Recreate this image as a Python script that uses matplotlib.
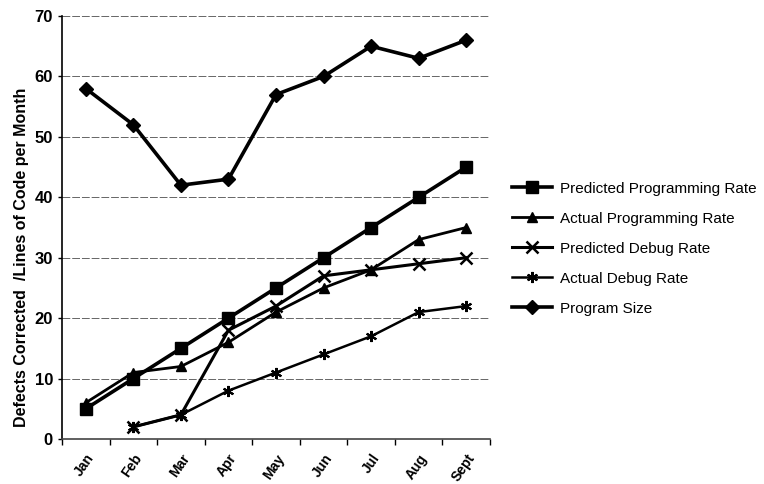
import matplotlib
matplotlib.use("Agg")
import matplotlib.pyplot as plt
import numpy as np

months = ["Jan", "Feb", "Mar", "Apr", "May", "Jun", "Jul", "Aug", "Sept"]
predicted_programming = [5, 10, 15, 20, 25, 30, 35, 40, 45]
actual_programming = [6, 11, 12, 16, 21, 25, 28, 33, 35]
predicted_debug = [np.nan, 2, 4, 18, 22, 27, 28, 29, 30]
actual_debug = [np.nan, 2, 4, 8, 11, 14, 17, 21, 22]
program_size = [58, 52, 42, 43, 57, 60, 65, 63, 66]
y_ticks = [0, 10, 20, 30, 40, 50, 60, 70]

plt.rcParams['font.family'] = ['Liberation Sans', 'DejaVu Sans']

fig = plt.figure(figsize=(7.64, 4.84), dpi=100)
ax = fig.add_axes([62/764, 45/484, 428/764, 423/484])

x = np.arange(len(months))
ax.plot(x, predicted_programming, color='black', lw=2.6, marker='s', ms=9, label='Predicted Programming Rate', zorder=3)
ax.plot(x, actual_programming, color='black', lw=2.0, marker='^', ms=7, label='Actual Programming Rate', zorder=3)
ax.plot(x, predicted_debug, color='black', lw=2.2, marker='x', ms=8, mew=1.8, label='Predicted Debug Rate', zorder=3)
ax.plot(x, actual_debug, color='black', lw=1.8, marker=(6, 2, 0), ms=8, mew=1.5, label='Actual Debug Rate', zorder=3)
ax.plot(x, program_size, color='black', lw=2.6, marker='D', ms=7, label='Program Size', zorder=3)

ax.set_xlim(-0.5, len(months) - 0.5)
ax.set_ylim(0, 70)
ax.set_yticks(y_ticks)
ax.set_yticklabels([str(v) for v in y_ticks], fontsize=12, fontweight='bold')
ax.set_xticks(x)
ax.set_xticklabels(months, rotation=55, fontsize=10, fontweight='bold', ha='right', rotation_mode='anchor')
ax.set_xticks(np.arange(len(months) + 1) - 0.5, minor=True)
ax.tick_params(axis='x', which='major', length=0, pad=9)
ax.tick_params(axis='x', which='minor', length=4, direction='out', width=1)
ax.tick_params(axis='y', length=3, width=1, direction='out')

ax.grid(axis='y', color='#666666', lw=0.7, ls=(0, (8, 2)), zorder=0)
for s in ['top', 'right']:
    ax.spines[s].set_visible(False)
ax.spines['left'].set_linewidth(1.2)
ax.spines['bottom'].set_linewidth(1.2)
ax.spines['bottom'].set_color('#444444')

ax.set_ylabel('Defects Corrected  /Lines of Code per Month', fontsize=11.5, fontweight='bold')
ax.yaxis.set_label_coords(-0.078, 0.43)

leg = ax.legend(loc='center left', bbox_to_anchor=(1.02, 0.45), frameon=False,
                prop={'size': 11},
                handlelength=2.6, labelspacing=1.05, handletextpad=0.5)

fig.savefig('out.png', dpi=100)
